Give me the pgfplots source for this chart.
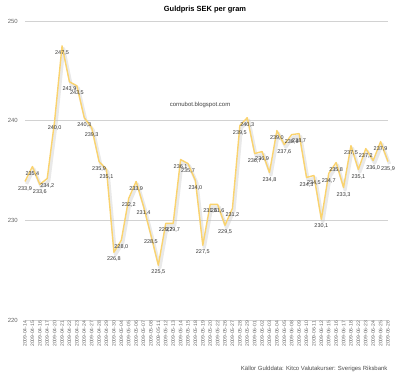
\documentclass[border=0pt]{standalone}
\usepackage{fontspec}
\setmainfont{Liberation Sans}
\usepackage{pgfplots}
\pgfplotsset{compat=1.18}
\usepackage{pgfplotstable}
\definecolor{linecol}{HTML}{FAD36E}
\pgfplotstableread{
x y
0 233.9
1 235.4
2 233.6
3 234.2
4 240.0
5 247.5
6 243.9
7 243.5
8 240.3
9 239.3
10 235.9
11 235.1
12 226.8
13 228.0
14 232.2
15 233.9
16 231.4
17 228.5
18 225.5
19 229.7
20 229.7
21 236.1
22 235.7
23 234.0
24 227.5
25 231.6
26 231.6
27 229.5
28 231.2
29 239.5
30 240.3
31 236.7
32 236.9
33 234.8
34 239.0
35 237.6
36 238.6
37 238.7
38 234.3
39 234.5
40 230.1
41 234.7
42 235.8
43 233.3
44 237.5
45 235.1
46 237.2
47 236.0
48 237.9
49 235.9
}\gold
\begin{document}
\begin{tikzpicture}[x=1bp,y=1bp]
\useasboundingbox (0,0) rectangle (400,375);
\begin{axis}[
  at={(25bp,55bp)}, anchor=south west,
  scale only axis, width=363bp, height=299bp,
  xmin=0, xmax=49, ymin=220, ymax=250,
  ytick={220,230,240,250},
  axis line style={draw=none},
  major tick length=0pt,
  ymajorgrids, grid style={gray!35, line width=0.6bp},
  xtick=data,
  xticklabels={2009-04-14,2009-04-15,2009-04-16,2009-04-17,2009-04-20,2009-04-21,2009-04-22,2009-04-23,2009-04-24,2009-04-27,2009-04-28,2009-04-29,2009-04-30,2009-05-04,2009-05-05,2009-05-06,2009-05-07,2009-05-08,2009-05-11,2009-05-12,2009-05-13,2009-05-14,2009-05-15,2009-05-18,2009-05-19,2009-05-20,2009-05-22,2009-05-26,2009-05-27,2009-05-28,2009-05-29,2009-06-01,2009-06-02,2009-06-03,2009-06-04,2009-06-05,2009-06-08,2009-06-09,2009-06-10,2009-06-11,2009-06-12,2009-06-15,2009-06-16,2009-06-17,2009-06-18,2009-06-22,2009-06-23,2009-06-24,2009-06-25,2009-06-26},
  xticklabel style={rotate=90, anchor=east, font=\fontsize{5}{5}\selectfont, text=black!60, inner sep=1bp},
  yticklabel style={font=\fontsize{6}{6}\selectfont, text=black!60, inner sep=1bp, xshift=-6bp},
  /pgf/number format/assume math mode=true,
  clip=false,
]
\addplot[gray!50, opacity=0.35, line width=3.2bp, line join=round, xshift=1.5bp, yshift=-2.5bp] table[x=x,y=y] {\gold};
\addplot[linecol, line width=1.4bp, line join=round,
  nodes near coords,
  nodes near coords style={font=\fontsize{5.5}{5.5}\selectfont, text=black!80, anchor=center, yshift=-7bp,
    /pgf/number format/.cd, fixed, fixed zerofill, precision=1, use comma},
] table[x=x,y=y] {\gold};
\end{axis}
\node[font=\bfseries\fontsize{7.5}{8}\selectfont] at (205,365) {Guldpris SEK per gram};
\node[font=\fontsize{6}{6}\selectfont, text=black!75] at (200,270) {cornubot.blogspot.com};
\node[font=\fontsize{6}{6}\selectfont, text=black!70, anchor=east] at (391,6) {Källor Gulddata: Kitco Valutakurser: Sveriges Riksbank};
\end{tikzpicture}
\end{document}
